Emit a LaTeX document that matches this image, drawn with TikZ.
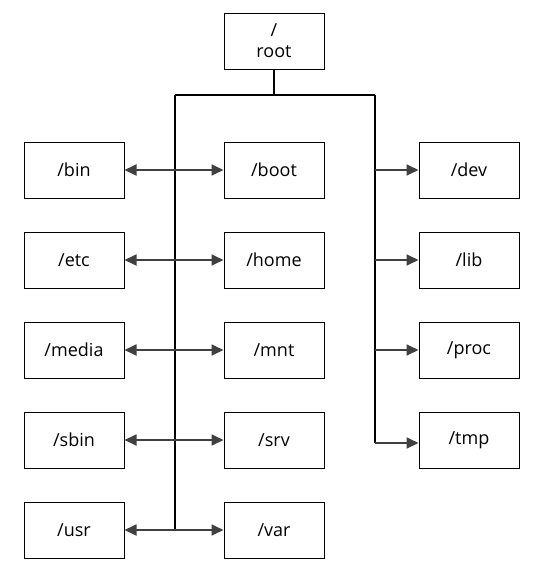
\documentclass[tikz,border=0pt]{standalone}
\usepackage{fontspec}
\setmainfont{Open Sans}
\usetikzlibrary{arrows.meta,positioning,calc}
\tikzset{
  dirbox/.style={draw=black,line width=1pt,fill=white,minimum width=100pt,minimum height=56pt,
    inner sep=0pt,align=center,font=\fontsize{18}{21}\selectfont},
  treeline/.style={draw=black,line width=1.1pt},
  linkarrow/.style={{Triangle[length=12pt,width=11pt]}-{Triangle[length=12pt,width=11pt]},
    draw=black!75,fill=black!75,line width=1.8pt},
  feedarrow/.style={-{Triangle[length=12pt,width=11pt]},draw=black!75,fill=black!75,line width=1.8pt}
}
\begin{document}
\begin{tikzpicture}[x=1pt,y=-1pt]
  \useasboundingbox (0,0) rectangle (546,570);
  % root and its bus
  \node[dirbox] (root) at (274,41) {/\\root};
  \coordinate (hub) at (274,95);
  \coordinate (lbus) at (175,95);
  \coordinate (rbus) at (375,95);
  \coordinate (lend) at (175,531);
  \coordinate (rend) at (375,443);
  % left column
  \node[dirbox] (bin) at (74,170) {/bin};
  \node[dirbox] (etc) at (74,260) {/etc};
  \node[dirbox] (media) at (74,350) {/media};
  \node[dirbox] (sbin) at (74,440) {/sbin};
  \node[dirbox] (usr) at (74,530) {/usr};
  % middle column
  \node[dirbox] (boot) at (274,170) {/boot};
  \node[dirbox] (home) at (274,260) {/home};
  \node[dirbox] (mnt) at (274,350) {/mnt};
  \node[dirbox] (srv) at (274,440) {/srv};
  \node[dirbox] (var) at (274,530) {/var};
  % right column
  \node[dirbox] (dev) at (469,170) {/dev};
  \node[dirbox] (lib) at (469,260) {/lib};
  \node[dirbox] (proc) at (469,350) {/proc};
  \node[dirbox] (tmp) at (469,440) {/tmp};
  % tree lines
  \draw[treeline] (root.south) -- (hub);
  \draw[treeline] (lbus) -- (rbus);
  \draw[treeline] (lbus) -- (lend);
  \draw[treeline] (rbus) -- (rend);
  % double arrows across the left trunk
  \draw[linkarrow] (bin.east) -- (boot.west);
  \draw[linkarrow] (etc.east) -- (home.west);
  \draw[linkarrow] (media.east) -- (mnt.west);
  \draw[linkarrow] (sbin.east) -- (srv.west);
  \draw[linkarrow] (usr.east) -- (var.west);
  % arrows off the right trunk
  \draw[feedarrow] (375,170) -- (dev.west);
  \draw[feedarrow] (375,260) -- (lib.west);
  \draw[feedarrow] (375,350) -- (proc.west);
  \draw[feedarrow] (rend) -- (tmp.west |- rend);
\end{tikzpicture}
\end{document}
